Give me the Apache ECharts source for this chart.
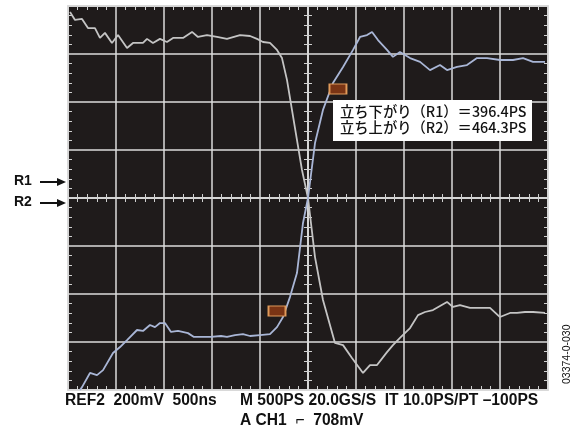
<!DOCTYPE html>
<html>
<head>
<meta charset="utf-8">
<script src="https://cdn.jsdelivr.net/npm/echarts@6/dist/echarts.min.js"></script>
<style>
  html, body { margin: 0; background: #fff; }
  #scope { width: 579px; height: 435px; }
</style>
</head>
<body>
<div id="scope"></div>
<script>
  // time in ps (500 ps/div), amplitude in mV (200 mV/div)
  var fallT = [-2479, -2427, -2354, -2292, -2219, -2167, -2115, -2042, -1979, -1885, -1823, -1719, -1677, -1615, -1542, -1469, -1406, -1302, -1208, -1146, -1052, -948, -844, -708, -604, -531, -469, -396, -323, -271, -219, -167, -115, -63, 0, 73, 156, 281, 365, 458, 573, 646, 719, 823, 885, 958, 1063, 1146, 1219, 1302, 1375, 1448, 1510, 1583, 1688, 1792, 1896, 2000, 2104, 2177, 2260, 2344, 2469]
  var fallV = [775, 742, 746, 708, 708, 667, 688, 646, 679, 625, 646, 646, 663, 646, 663, 650, 667, 667, 692, 671, 679, 671, 663, 679, 675, 663, 650, 646, 617, 583, 492, 367, 242, 117, 0, -246, -425, -604, -613, -667, -729, -696, -696, -642, -613, -583, -542, -488, -475, -467, -450, -433, -454, -446, -458, -458, -458, -496, -479, -479, -475, -475, -479]

  var riseT = [-2375, -2354, -2271, -2198, -2135, -2031, -1958, -1885, -1781, -1719, -1646, -1594, -1542, -1490, -1427, -1354, -1250, -1188, -1010, -906, -844, -760, -677, -604, -500, -396, -323, -260, -188, -115, -52, 0, 73, 156, 260, 365, 469, 542, 615, 667, 729, 823, 885, 958, 1063, 1167, 1271, 1375, 1448, 1552, 1656, 1760, 1865, 2000, 2135, 2240, 2344, 2469]
  var riseV = [-800, -788, -729, -738, -717, -646, -621, -592, -550, -554, -529, -538, -521, -521, -558, -554, -563, -579, -579, -575, -579, -571, -567, -575, -571, -567, -538, -496, -413, -313, -104, 0, 229, 367, 479, 546, 617, 671, 679, 692, 658, 617, 588, 608, 583, 567, 533, 554, 533, 546, 554, 583, 583, 575, 575, 583, 567, 567]

  // cursor markers on the rising trace
  var cursorT = [312, -323]
  var cursorV = [454, -471]

  var readout = ['立ち下がり（R1）＝396.4PS', '立ち上がり（R2）＝464.3PS']
  var footer1 = 'REF2  200mV  500ns'
  var footer2 = 'M 500PS 20.0GS/S  IT 10.0PS/PT –100PS'
  var footer3 = 'A CH1  ⌐  708mV'
  var figId = '03374-0-030'

  function pairs(xs, ys) {
    return xs.map(function(x, i) { return [x, ys[i]] })
  }

  var tickColor = '#d0d0d0'

  // scope graticule: border axes + centre axes, minor ticks 5 per division
  function xAx(pos, onZero, inside, split) {
    return {
      type: 'value', min: -2500, max: 2500, interval: 500, position: pos,
      axisLine: { show: true, onZero: onZero, lineStyle: { color: '#d8d8d8', width: 1.5 } },
      axisTick: { show: false, inside: inside },
      minorTick: { show: true, splitNumber: 5, length: 4, lineStyle: { color: tickColor, width: 1 } },
      axisLabel: { show: false },
      splitLine: { show: split, lineStyle: { color: '#dcdcdc', width: 1.5 } }
    }
  }
  function yAx(pos, onZero, inside, split) {
    return {
      type: 'value', min: -800, max: 800, interval: 200, position: pos,
      axisLine: { show: true, onZero: onZero, lineStyle: { color: '#d8d8d8', width: 1.5 } },
      axisTick: { show: false, inside: inside },
      minorTick: { show: true, splitNumber: 5, length: 4, lineStyle: { color: tickColor, width: 1 } },
      axisLabel: { show: false },
      splitLine: { show: split, lineStyle: { color: '#dcdcdc', width: 1.5 } }
    }
  }

  var chart = echarts.init(document.getElementById('scope'))
  var option = {
    backgroundColor: '#ffffff',
    animation: false,
    grid: {
      left: 68, top: 6, width: 480, height: 384,
      show: true, backgroundColor: '#1f1b1b', borderColor: '#d8d8d8', borderWidth: 1.5
    },
    xAxis: [
      xAx('bottom', false, true, true),
      xAx('top', false, true, false),
      xAx('bottom', true, true, false),
      xAx('bottom', true, false, false)
    ],
    yAxis: [
      yAx('left', false, true, true),
      yAx('right', false, true, false),
      yAx('left', true, true, false),
      yAx('left', true, false, false)
    ],
    series: [
      {
        name: 'R1', type: 'line', xAxisIndex: 0, yAxisIndex: 0,
        data: pairs(fallT, fallV), showSymbol: false,
        lineStyle: { color: '#c4c4c4', width: 1.8 }
      },
      {
        name: 'R2', type: 'line', xAxisIndex: 0, yAxisIndex: 0,
        data: pairs(riseT, riseV), showSymbol: false,
        lineStyle: { color: '#a9b6d6', width: 1.8 },
        markPoint: {
          symbol: 'rect', symbolSize: [17, 10],
          itemStyle: { color: '#7a3414', borderColor: '#e09a5a', borderWidth: 1.5 },
          label: { show: false },
          data: cursorT.map(function(t, i) { return { coord: [t, cursorV[i]] } })
        }
      }
    ],
    graphic: [
      {
        type: 'rect', left: 333, top: 100, shape: { width: 199, height: 41 },
        style: { fill: '#ffffff' }, z: 10
      },
      {
        type: 'text', left: 340, top: 104, z: 11,
        style: { text: readout.join('\n'), font: '500 14.3px "Noto Sans CJK JP"', lineHeight: 16, fill: '#111' }
      },
      { type: 'text', left: 14, top: 174, style: { text: 'R1', font: 'bold 14px "Liberation Sans"', fill: '#111' } },
      { type: 'text', left: 14, top: 195, style: { text: 'R2', font: 'bold 14px "Liberation Sans"', fill: '#111' } },
      { type: 'line', shape: { x1: 40, y1: 182, x2: 58, y2: 182 }, style: { stroke: '#111', lineWidth: 2 } },
      { type: 'polygon', shape: { points: [[57, 178], [66, 182], [57, 186]] }, style: { fill: '#111' } },
      { type: 'line', shape: { x1: 40, y1: 203, x2: 58, y2: 203 }, style: { stroke: '#111', lineWidth: 2 } },
      { type: 'polygon', shape: { points: [[57, 199], [66, 203], [57, 207]] }, style: { fill: '#111' } },
      { type: 'text', left: 65, top: 393, style: { text: footer1, font: 'bold 15.6px "Liberation Sans"', fill: '#111' } },
      { type: 'text', left: 240, top: 393, style: { text: footer2, font: 'bold 15.6px "Liberation Sans"', fill: '#111' } },
      { type: 'text', left: 240, top: 413, style: { text: footer3, font: 'bold 15.6px "Liberation Sans"', fill: '#111' } },
      {
        type: 'text', x: 562, y: 384, rotation: Math.PI / 2,
        style: { text: figId, font: '10.5px "Liberation Sans"', fill: '#111' }
      }
    ]
  }
  chart.setOption(option)
</script>
</body>
</html>
